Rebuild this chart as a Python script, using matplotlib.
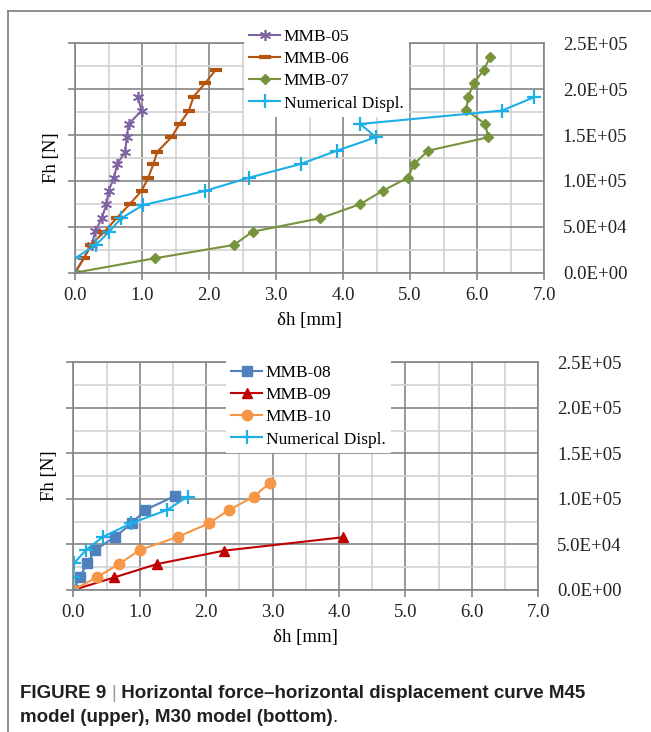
import matplotlib
matplotlib.use("Agg")
import matplotlib.pyplot as plt
from matplotlib.ticker import MultipleLocator, FuncFormatter
from matplotlib.lines import Line2D

# ---------------- data (upper: M45 model) ----------------
mmb05_x = [0.0, 0.25, 0.30, 0.40, 0.47, 0.50, 0.58, 0.63, 0.75, 0.77, 0.80, 0.995, 0.935]
mmb05_y = [0, 30500, 45000, 59300, 74900, 89400, 102900, 118500, 131900, 147600, 162100, 176600, 191900]

mmb06_x = [0.0, 0.134, 0.234, 0.44, 0.62, 0.82, 0.995, 1.09, 1.17, 1.23, 1.44, 1.56, 1.70, 1.77, 1.94, 2.10]
mmb06_y = [0, 15700, 30200, 44700, 59300, 74900, 89400, 102900, 118500, 132000, 147600, 162000, 176600, 191900, 206400, 221000]

mmb07_x = [0.0, 1.19, 2.37, 2.65, 3.66, 4.25, 4.59, 4.97, 5.06, 5.27, 6.17, 6.12, 5.84, 5.87, 5.95, 6.10, 6.20]
mmb07_y = [0, 15700, 30200, 44700, 59300, 74500, 89100, 103600, 118500, 133000, 147600, 162100, 177400, 191900, 206500, 221000, 235500]

num_up_x = [0.0, 0.0, 0.31, 0.51, 0.69, 1.02, 1.94, 2.60, 3.37, 3.91, 4.49, 4.26, 6.37, 6.85]
num_up_y = [0, 15700, 30200, 44700, 59300, 73800, 89100, 103600, 118500, 133000, 147600, 162100, 176600, 191200]

# ---------------- data (lower: M30 model) ----------------
mmb08_x = [0.0, 0.10, 0.21, 0.33, 0.63, 0.88, 1.08, 1.53]
mmb08_y = [0, 14600, 29300, 43900, 58500, 73200, 87800, 103200]

mmb09_x = [0.0, 0.62, 1.26, 2.27, 4.06]
mmb09_y = [0, 13900, 28500, 43200, 57900]

mmb10_x = [0.0, 0.35, 0.69, 1.00, 1.58, 2.04, 2.34, 2.72, 2.96]
mmb10_y = [0, 13900, 28500, 43900, 58500, 73200, 87800, 102500, 117800]

num_lo_x = [0.0, 0.0, 0.01, 0.19, 0.45, 0.87, 1.41, 1.72]
num_lo_y = [0, 14600, 29300, 43900, 58500, 73200, 87800, 102500]

upper_labels = ["MMB-05", "MMB-06", "MMB-07", "Numerical Displ."]
lower_labels = ["MMB-08", "MMB-09", "MMB-10", "Numerical Displ."]
x_label = "δh [mm]"
y_label = "Fh [N]"

W, H = 651, 732
fig = plt.figure(figsize=(W / 100, H / 100), dpi=100)
SERIF = ["Liberation Serif", "DejaVu Serif"]

MAJ = "#858585"
MIN = "#d2d2d2"


def px_rect(l, t, r, b):
    return [l / W, 1 - b / H, (r - l) / W, (b - t) / H]


def style_axes(ax):
    ax.set_xlim(0, 7)
    ax.set_ylim(0, 2.5e5)
    ax.xaxis.set_major_locator(MultipleLocator(1.0))
    ax.xaxis.set_minor_locator(MultipleLocator(0.5))
    ax.yaxis.set_major_locator(MultipleLocator(5e4))
    ax.yaxis.set_minor_locator(MultipleLocator(2.5e4))
    ax.xaxis.set_major_formatter(FuncFormatter(lambda v, p: f"{v:.1f}"))
    ax.yaxis.set_major_formatter(FuncFormatter(lambda v, p: f"{v:.1E}"))
    ax.grid(True, which="major", color=MAJ, lw=1.2)
    ax.grid(True, which="minor", color=MIN, lw=1.2)
    ax.set_axisbelow(True)
    for s in ax.spines.values():
        s.set_color(MAJ)
        s.set_linewidth(1.2)
    ax.tick_params(axis="y", which="major", left=True, right=False, labelleft=False,
                   labelright=True, direction="out", length=5, width=1.2, color=MAJ, pad=8.5)
    ax.tick_params(axis="x", which="major", bottom=True, direction="out", length=5,
                   width=1.2, color=MAJ, pad=5)
    ax.tick_params(which="minor", length=0)
    for lab in ax.get_xticklabels() + ax.get_yticklabels():
        lab.set_family(SERIF)
        lab.set_fontsize(13.5)
        lab.set_color("#222222")


LEGKW = dict(prop={"family": SERIF, "size": 12.5}, frameon=True, fancybox=False,
             facecolor="white", edgecolor="none", framealpha=1, borderpad=0.3,
             labelspacing=0.34, handlelength=1.8, handletextpad=0.2, borderaxespad=0)

# ---------------- upper ----------------
ax1 = fig.add_axes(px_rect(75, 43.3, 544, 272.7))
style_axes(ax1)
ax1.plot(mmb05_x, mmb05_y, color="#8064A2", lw=1.5, marker=(6, 2, 0), ms=8, mew=1.2, label=upper_labels[0])
ax1.plot(mmb06_x, mmb06_y, color="#B5540F", lw=1.5, marker="_", ms=9, mew=3, label=upper_labels[1])
ax1.plot(mmb07_x, mmb07_y, color="#77933C", lw=1.5, marker="D", ms=5, label=upper_labels[2])
ax1.plot(num_up_x, num_up_y, color="#1CAEE6", lw=1.5, marker="+", ms=10, mew=1.6, label=upper_labels[3])
ax1.set_xlabel(x_label, family=SERIF, fontsize=13.5, labelpad=6)
ax1.set_ylabel(y_label, family=SERIF, fontsize=13.5, labelpad=6)
leg1 = ax1.legend(loc="upper left", bbox_to_anchor=(244 / W, 1 - 24 / H), bbox_transform=fig.transFigure, **LEGKW)
leg1.set_zorder(5)

# ---------------- lower ----------------
ax2 = fig.add_axes(px_rect(73.3, 362.3, 538.3, 590))
style_axes(ax2)
ax2.plot(mmb08_x, mmb08_y, color="#4F81BD", lw=1.5, marker="s", ms=7.5, label=lower_labels[0])
ax2.plot(mmb09_x, mmb09_y, color="#C00000", lw=1.5, marker="^", ms=7, label=lower_labels[1])
ax2.plot(mmb10_x, mmb10_y, color="#F79646", lw=1.5, marker="o", ms=7.5, label=lower_labels[2])
ax2.plot(num_lo_x, num_lo_y, color="#1CAEE6", lw=1.5, marker="+", ms=10, mew=1.6, label=lower_labels[3])
ax2.set_xlabel(x_label, family=SERIF, fontsize=13.5, labelpad=6)
ax2.set_ylabel(y_label, family=SERIF, fontsize=13.5, labelpad=6)
leg2 = ax2.legend(loc="upper left", bbox_to_anchor=(226 / W, 1 - 360 / H), bbox_transform=fig.transFigure, **LEGKW)
leg2.set_zorder(5)

# ---------------- frame ----------------
frame_col = "#7a7a7a"
fig.add_artist(Line2D([8 / W, 1.0], [1 - 11 / H, 1 - 11 / H], transform=fig.transFigure, color=frame_col, lw=1.2))
fig.add_artist(Line2D([8 / W, 8 / W], [1 - 11 / H, 0.0], transform=fig.transFigure, color=frame_col, lw=1.2))

# ---------------- caption ----------------
CAP = ["Liberation Sans", "DejaVu Sans"]
cap_size = 13.5
r = fig.canvas.get_renderer()
x0 = 20 / W
y1 = 1 - 693 / H
y2 = 1 - 717 / H
pieces = [("FIGURE 9 ", "bold", "#231f20"), ("|", "normal", "#999999"),
          (" Horizontal force–horizontal displacement curve M45", "bold", "#231f20")]
xc = x0
for txt, wt, col in pieces:
    t = fig.text(xc, y1, txt, family=CAP, fontsize=cap_size, fontweight=wt, color=col, va="center", ha="left")
    bb = t.get_window_extent(renderer=r)
    xc = xc + bb.width / W
pieces2 = [("model (upper), M30 model (bottom)", "bold", "#231f20"), (".", "normal", "#231f20")]
xc = x0
for txt, wt, col in pieces2:
    t = fig.text(xc, y2, txt, family=CAP, fontsize=cap_size, fontweight=wt, color=col, va="center", ha="left")
    bb = t.get_window_extent(renderer=r)
    xc = xc + bb.width / W

fig.savefig("out.png", dpi=100)
